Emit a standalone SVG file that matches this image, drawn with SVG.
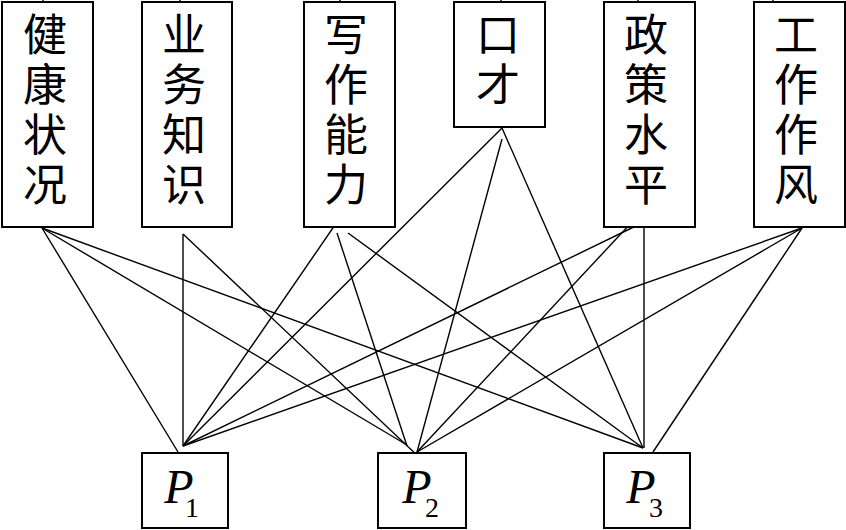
<svg xmlns="http://www.w3.org/2000/svg" width="846" height="530" viewBox="0 0 846 530">
<style>
.box{fill:#fff;stroke:#000;stroke-width:2}
.cn{font-family:"Noto Sans CJK SC","Noto Sans CJK JP",sans-serif;font-size:44px;text-anchor:middle;fill:#000}
.p{font-family:"Liberation Serif",serif;font-style:italic;font-size:48px;text-anchor:middle;fill:#000}
.sub{font-style:normal;font-size:28px}
#connectors line{stroke:#000;stroke-width:1.4;fill:none}
</style>
<rect width="846" height="530" fill="#fff"/>
<g id="connectors">
<line x1="43" y1="0" x2="43" y2="2"/>
<line x1="180" y1="0" x2="180" y2="2"/>
<line x1="340" y1="0" x2="340" y2="2"/>
<line x1="501" y1="0" x2="501" y2="2"/>
<line x1="638" y1="0" x2="638" y2="2"/>
<line x1="773" y1="0" x2="773" y2="2"/>
<line x1="42" y1="228" x2="178" y2="452"/>
<line x1="42" y1="228" x2="407" y2="445"/>
<line x1="42" y1="228" x2="643" y2="448"/>
<line x1="183" y1="234" x2="183" y2="446"/>
<line x1="183" y1="234" x2="420" y2="458"/>
<line x1="337" y1="222" x2="183" y2="446"/>
<line x1="337" y1="233" x2="407" y2="446"/>
<line x1="348" y1="233" x2="643" y2="448"/>
<line x1="502" y1="128" x2="183" y2="446"/>
<line x1="502" y1="139" x2="417" y2="452"/>
<line x1="502" y1="128" x2="643" y2="448"/>
<line x1="644" y1="222" x2="183" y2="446"/>
<line x1="632" y1="222" x2="417" y2="452"/>
<line x1="644" y1="222" x2="644" y2="448"/>
<line x1="802" y1="228" x2="183" y2="446"/>
<line x1="802" y1="228" x2="417" y2="452"/>
<line x1="802" y1="228" x2="653" y2="452"/>
</g>
<g id="n1"><rect class="box" x="2" y="2" width="91" height="225"/><text class="cn"><tspan x="45" y="51">健</tspan><tspan x="45" y="101">康</tspan><tspan x="45" y="151">状</tspan><tspan x="45" y="201">况</tspan></text></g>
<g id="n2"><rect class="box" x="142" y="2" width="90" height="225"/><text class="cn"><tspan x="184" y="51">业</tspan><tspan x="184" y="101">务</tspan><tspan x="184" y="151">知</tspan><tspan x="184" y="201">识</tspan></text></g>
<g id="n3"><rect class="box" x="304" y="2" width="91" height="225"/><text class="cn"><tspan x="346" y="51">写</tspan><tspan x="346" y="101">作</tspan><tspan x="346" y="151">能</tspan><tspan x="346" y="201">力</tspan></text></g>
<g id="n4"><rect class="box" x="454" y="2" width="91" height="125"/><text class="cn"><tspan x="498" y="51">口</tspan><tspan x="498" y="101">才</tspan></text></g>
<g id="n5"><rect class="box" x="604" y="2" width="91" height="225"/><text class="cn"><tspan x="646" y="51">政</tspan><tspan x="646" y="101">策</tspan><tspan x="646" y="151">水</tspan><tspan x="646" y="201">平</tspan></text></g>
<g id="n6"><rect class="box" x="754" y="2" width="91" height="225"/><text class="cn"><tspan x="796" y="51">工</tspan><tspan x="796" y="101">作</tspan><tspan x="796" y="151">作</tspan><tspan x="796" y="201">风</tspan></text></g>
<g id="p1"><rect class="box" x="142" y="453" width="86" height="75"/><text class="p" x="179" y="503">P<tspan class="sub" x="192" y="517">1</tspan></text></g>
<g id="p2"><rect class="box" x="378" y="453" width="88" height="75"/><text class="p" x="417" y="503">P<tspan class="sub" x="432" y="517">2</tspan></text></g>
<g id="p3"><rect class="box" x="604" y="453" width="86" height="75"/><text class="p" x="641" y="503">P<tspan class="sub" x="656" y="517">3</tspan></text></g>
</svg>
